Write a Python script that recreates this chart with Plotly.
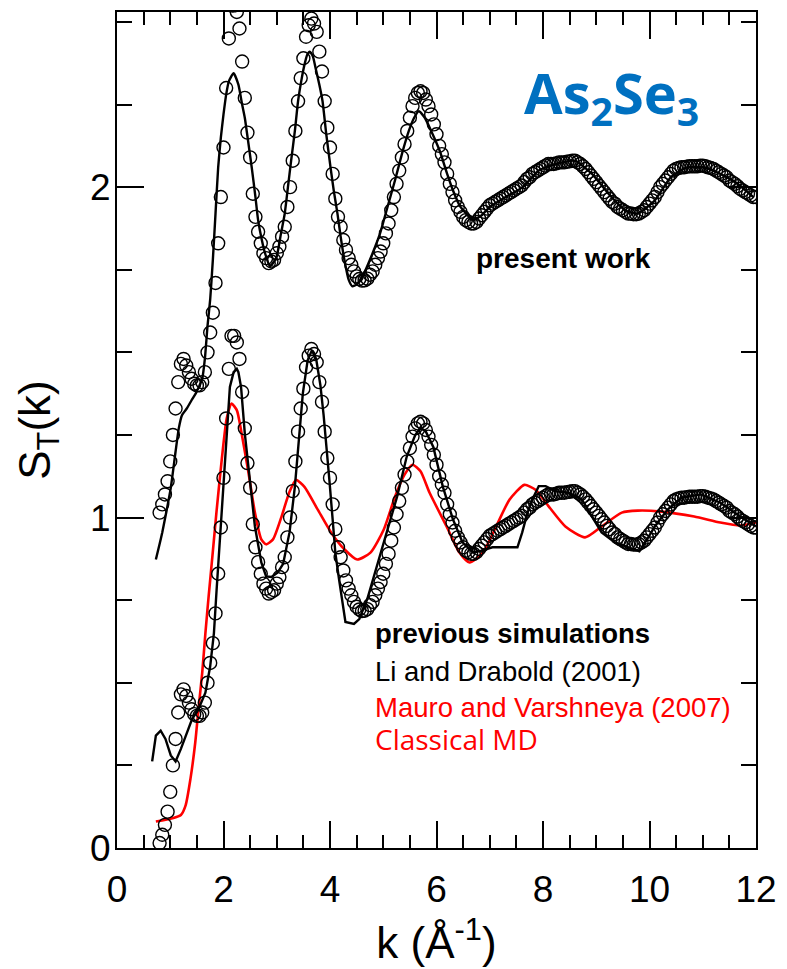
import plotly.graph_objects as go

# Measured total structure factor S_T(k) (open circles).
# The same measurement is drawn twice: as is, and shifted up by OFFSET next to the present model.
K_EXP = [
    0.80, 0.85, 0.90, 0.95, 1.00, 1.05, 1.10, 1.15, 1.20, 1.25,
    1.30, 1.35, 1.40, 1.45, 1.50, 1.55, 1.60, 1.65, 1.70, 1.75,
    1.80, 1.85, 1.90, 1.95, 2.00, 2.05, 2.10, 2.15, 2.20, 2.25,
    2.30, 2.35, 2.40, 2.45, 2.50, 2.55, 2.60, 2.65, 2.70, 2.75,
    2.80, 2.85, 2.90, 2.95, 3.00, 3.05, 3.10, 3.15, 3.20, 3.25,
    3.30, 3.35, 3.40, 3.45, 3.50, 3.55, 3.60, 3.65, 3.70, 3.75,
    3.80, 3.85, 3.90, 3.95, 4.00, 4.05, 4.10, 4.15, 4.20, 4.25,
    4.30, 4.35, 4.40, 4.45, 4.50, 4.55, 4.60, 4.65, 4.70, 4.75,
    4.80, 4.85, 4.90, 4.95, 5.00, 5.05, 5.10, 5.15, 5.20, 5.25,
    5.30, 5.35, 5.40, 5.45, 5.50, 5.55, 5.60, 5.65, 5.70, 5.75,
    5.80, 5.85, 5.90, 5.95, 6.00, 6.05, 6.10, 6.15, 6.20, 6.25,
    6.30, 6.35, 6.40, 6.45, 6.50, 6.55, 6.60, 6.65, 6.70, 6.75,
    6.80, 6.85, 6.90, 6.95, 7.00, 7.05, 7.10, 7.15, 7.20, 7.25,
    7.30, 7.35, 7.40, 7.45, 7.50, 7.55, 7.60, 7.65, 7.70, 7.75,
    7.80, 7.85, 7.90, 7.95, 8.00, 8.05, 8.10, 8.15, 8.20, 8.25,
    8.30, 8.35, 8.40, 8.45, 8.50, 8.55, 8.60, 8.65, 8.70, 8.75,
    8.80, 8.85, 8.90, 8.95, 9.00, 9.05, 9.10, 9.15, 9.20, 9.25,
    9.30, 9.35, 9.40, 9.45, 9.50, 9.55, 9.60, 9.65, 9.70, 9.75,
    9.80, 9.85, 9.90, 9.95, 10.00, 10.05, 10.10, 10.15, 10.20, 10.25,
    10.30, 10.35, 10.40, 10.45, 10.50, 10.55, 10.60, 10.65, 10.70, 10.75,
    10.80, 10.85, 10.90, 10.95, 11.00, 11.05, 11.10, 11.15, 11.20, 11.25,
    11.30, 11.35, 11.40, 11.45, 11.50, 11.55, 11.60, 11.65, 11.70, 11.75,
    11.80, 11.85, 11.90, 11.95, 12.00,
]
S_EXP = [
    0.015, 0.04, 0.07, 0.11, 0.17, 0.25, 0.33, 0.41, 0.465, 0.48,
    0.46, 0.44, 0.42, 0.405, 0.40, 0.40, 0.41, 0.44, 0.50, 0.56,
    0.62, 0.71, 0.83, 0.97, 1.12, 1.30, 1.45, 1.55, 1.55, 1.53,
    1.48, 1.38, 1.27, 1.165, 1.09, 0.98, 0.91, 0.865, 0.83, 0.80,
    0.785, 0.77, 0.775, 0.78, 0.80, 0.82, 0.85, 0.88, 0.94, 1.00,
    1.08, 1.17, 1.26, 1.33, 1.39, 1.455, 1.49, 1.51, 1.495, 1.47,
    1.41, 1.35, 1.26, 1.18, 1.12, 1.04, 0.965, 0.91, 0.88, 0.84,
    0.81, 0.785, 0.765, 0.745, 0.73, 0.722, 0.717, 0.718, 0.723, 0.735,
    0.745, 0.765, 0.785, 0.805, 0.83, 0.86, 0.89, 0.93, 0.97, 1.01,
    1.05, 1.09, 1.13, 1.17, 1.21, 1.245, 1.27, 1.285, 1.29, 1.285,
    1.265, 1.245, 1.22, 1.19, 1.16, 1.125, 1.10, 1.075, 1.04, 1.01,
    0.985, 0.96, 0.94, 0.925, 0.91, 0.90, 0.895, 0.89, 0.89, 0.895,
    0.905, 0.915, 0.925, 0.935, 0.945, 0.95, 0.955, 0.96, 0.965, 0.97,
    0.975, 0.98, 0.985, 0.99, 0.995, 1.00, 1.005, 1.015, 1.025, 1.03,
    1.04, 1.045, 1.05, 1.055, 1.06, 1.065, 1.07, 1.07, 1.07, 1.072,
    1.075, 1.075, 1.075, 1.077, 1.078, 1.08, 1.08, 1.075, 1.07, 1.063,
    1.055, 1.045, 1.035, 1.025, 1.015, 1.005, 0.995, 0.985, 0.975, 0.965,
    0.955, 0.95, 0.94, 0.935, 0.93, 0.925, 0.92, 0.92, 0.918, 0.918,
    0.92, 0.925, 0.93, 0.94, 0.95, 0.96, 0.97, 0.985, 1.00, 1.01,
    1.02, 1.03, 1.04, 1.05, 1.055, 1.058, 1.06, 1.06, 1.062, 1.063,
    1.063, 1.063, 1.063, 1.065, 1.065, 1.063, 1.06, 1.058, 1.055, 1.05,
    1.045, 1.04, 1.035, 1.03, 1.02, 1.015, 1.01, 1.003, 0.995, 0.99,
    0.985, 0.98, 0.975, 0.97, 0.97,
]

# Present-work model (solid black, drawn shifted up by OFFSET)
K_PRESENT = [
    0.73, 0.80, 0.85, 0.93, 1.01, 1.10, 1.16, 1.22, 1.31, 1.40,
    1.48, 1.55, 1.60, 1.65, 1.70, 1.75, 1.80, 1.85, 1.90, 1.95,
    2.00, 2.05, 2.10, 2.19, 2.28, 2.35, 2.40, 2.47, 2.53, 2.60,
    2.65, 2.72, 2.78, 2.87, 2.95, 3.00, 3.08, 3.15, 3.21, 3.27,
    3.34, 3.40, 3.47, 3.52, 3.57, 3.62, 3.68, 3.73, 3.80, 3.86,
    3.93, 4.01, 4.07, 4.14, 4.20, 4.27, 4.35, 4.42, 4.50, 4.64,
    4.80, 4.94, 5.08, 5.22, 5.35, 5.48, 5.58, 5.67, 5.78, 5.90,
    6.06, 6.20, 6.31, 6.45, 6.56, 6.68, 6.85, 7.00, 7.30, 7.62,
    7.92, 8.23, 8.60, 8.92, 9.23, 9.54, 9.78, 10.10, 10.40, 10.70,
    11.02, 11.33, 11.65, 11.95,
]
S_PRESENT = [
    -0.127, -0.08, -0.045, 0.02, 0.09, 0.20, 0.27, 0.31, 0.33, 0.355,
    0.376, 0.40, 0.42, 0.48, 0.58, 0.66, 0.78, 0.92, 1.06, 1.15,
    1.22, 1.28, 1.32, 1.345, 1.31, 1.25, 1.21, 1.13, 1.06, 0.97,
    0.90, 0.84, 0.80, 0.76, 0.775, 0.79, 0.86, 0.92, 1.00, 1.08,
    1.17, 1.26, 1.33, 1.37, 1.40, 1.41, 1.395, 1.36, 1.31, 1.26,
    1.16, 1.06, 0.99, 0.92, 0.85, 0.78, 0.72, 0.70, 0.705, 0.74,
    0.80, 0.86, 0.94, 1.02, 1.10, 1.17, 1.21, 1.23, 1.21, 1.17,
    1.11, 1.04, 0.99, 0.94, 0.92, 0.90, 0.915, 0.94, 0.97, 1.00,
    1.05, 1.07, 1.08, 1.04, 0.98, 0.93, 0.92, 0.96, 1.03, 1.06,
    1.06, 1.04, 1.01, 0.97,
]

# Li and Drabold (2001), solid black
K_LI = [
    0.66, 0.73, 0.82, 0.91, 1.01, 1.10, 1.20, 1.32, 1.41, 1.53,
    1.66, 1.75, 1.82, 1.87, 1.94, 2.00, 2.06, 2.12, 2.19, 2.25,
    2.28, 2.33, 2.40, 2.50, 2.59, 2.71, 2.80, 2.90, 3.02, 3.12,
    3.24, 3.34, 3.43, 3.49, 3.58, 3.66, 3.74, 3.82, 3.88, 3.94,
    3.99, 4.05, 4.10, 4.17, 4.24, 4.29, 4.45, 4.55, 4.70, 4.88,
    5.07, 5.26, 5.44, 5.60, 5.70, 5.80, 5.94, 6.12, 6.31, 6.49,
    6.69, 6.85, 7.05, 7.15, 7.52, 7.61, 7.70, 7.80, 7.92, 8.05,
    8.23, 8.48, 8.73, 8.92, 9.10, 9.35, 9.60, 9.81, 9.90, 10.10,
    10.34, 10.60, 10.97, 11.33, 11.70, 12.00,
]
S_LI = [
    0.262, 0.34, 0.355, 0.33, 0.28, 0.262, 0.30, 0.35, 0.39, 0.42,
    0.47, 0.55, 0.65, 0.78, 0.955, 1.095, 1.255, 1.395, 1.44, 1.45,
    1.44, 1.395, 1.255, 1.105, 0.973, 0.864, 0.822, 0.82, 0.834, 0.86,
    0.955, 1.093, 1.255, 1.376, 1.476, 1.506, 1.48, 1.40, 1.31, 1.21,
    1.11, 0.994, 0.894, 0.813, 0.732, 0.684, 0.678, 0.693, 0.753, 0.852,
    0.955, 1.063, 1.184, 1.25, 1.272, 1.26, 1.214, 1.093, 0.994, 0.925,
    0.894, 0.90, 0.91, 0.91, 0.91, 0.955, 1.01, 1.055, 1.095, 1.095,
    1.08, 1.075, 1.055, 1.003, 0.955, 0.925, 0.91, 0.898, 0.92, 0.973,
    1.024, 1.06, 1.07, 1.045, 1.003, 0.973,
]

# Mauro and Varshneya (2007), classical MD, solid red
K_MAURO = [
    0.73, 1.04, 1.20, 1.29, 1.38, 1.47, 1.53, 1.60, 1.66, 1.72,
    1.79, 1.87, 1.97, 2.06, 2.15, 2.25, 2.34, 2.47, 2.59, 2.71,
    2.80, 2.93, 3.09, 3.24, 3.36, 3.52, 3.77, 4.02, 4.27, 4.51,
    4.76, 5.01, 5.22, 5.40, 5.55, 5.70, 5.87, 6.19, 6.43, 6.62,
    6.87, 7.12, 7.37, 7.65, 7.86, 8.11, 8.42, 8.79, 9.10, 9.48,
    9.78, 10.22, 10.84, 11.33, 11.70, 12.00,
]
S_MAURO = [
    0.08, 0.09, 0.10, 0.13, 0.21, 0.32, 0.42, 0.53, 0.65, 0.76,
    0.88, 1.02, 1.18, 1.30, 1.345, 1.325, 1.255, 1.135, 1.015, 0.934,
    0.919, 0.934, 1.003, 1.078, 1.114, 1.093, 1.024, 0.955, 0.904, 0.873,
    0.894, 0.964, 1.063, 1.13, 1.16, 1.14, 1.075, 0.973, 0.894, 0.864,
    0.894, 0.973, 1.054, 1.099, 1.084, 1.033, 0.973, 0.94, 0.973, 1.015,
    1.021, 1.018, 1.003, 0.985, 0.976, 0.985,
]

OFFSET = 1.0

X_TICKS = [0, 2, 4, 6, 8, 10, 12]
Y_TICKS = [0, 1, 2]

BLACK = "#000000"
RED = "#ff0000"
BLUE = "#0070c0"
ARIAL = "Liberation Sans, Arial, sans-serif"
CALIBRI_LIKE = "Open Sans, Noto Sans, sans-serif"

fig = go.Figure()

circle_marker = dict(symbol="circle-open", size=13, color=BLACK, line=dict(width=1.4, color=BLACK))

# lower group: measurement with previous simulations
fig.add_trace(go.Scatter(x=K_MAURO, y=S_MAURO, mode="lines",
                         line=dict(color=RED, width=2.6, shape="spline", smoothing=0.6)))
fig.add_trace(go.Scatter(x=K_LI, y=S_LI, mode="lines",
                         line=dict(color=BLACK, width=2.4)))
fig.add_trace(go.Scatter(x=K_EXP, y=S_EXP, mode="markers", marker=circle_marker))

# upper group: measurement with present model, shifted
fig.add_trace(go.Scatter(x=K_PRESENT, y=[s + OFFSET for s in S_PRESENT], mode="lines",
                         line=dict(color=BLACK, width=2.4, shape="spline", smoothing=0.5)))
fig.add_trace(go.Scatter(x=K_EXP, y=[s + OFFSET for s in S_EXP], mode="markers", marker=circle_marker))

axis_common = dict(
    showline=True, linewidth=2, linecolor=BLACK, mirror="ticks",
    showgrid=False, zeroline=False,
    ticks="inside", tickwidth=2, tickcolor=BLACK,
    tickfont=dict(family=ARIAL, size=37, color=BLACK),
)

fig.update_xaxes(
    range=[0, 12], tickvals=X_TICKS, ticktext=[str(v) for v in X_TICKS], ticklen=27,
    minor=dict(dtick=0.5, ticks="inside", ticklen=13, tickwidth=2, tickcolor=BLACK, showgrid=False),
    ticklabelstandoff=8,
    title=dict(text="k (Å<sup>-1</sup>)", font=dict(family=ARIAL, size=44, color=BLACK), standoff=18),
    **axis_common,
)
fig.update_yaxes(
    range=[0, 2.53], tickvals=Y_TICKS, ticktext=[str(v) for v in Y_TICKS], ticklen=27,
    minor=dict(dtick=0.25, ticks="inside", ticklen=15, tickwidth=2, tickcolor=BLACK, showgrid=False),
    ticklabelstandoff=-3,
    title=dict(text="S<sub>T</sub>(k)", font=dict(family=ARIAL, size=44, color=BLACK), standoff=26),
    **axis_common,
)

notes = [
    dict(text="As<sub>2</sub>Se<sub>3</sub>", x=0.636, y=0.900,
         font=dict(family=CALIBRI_LIKE, size=56, color=BLUE, weight="bold")),
    dict(text="<b>present work</b>", x=0.560, y=0.705,
         font=dict(family=ARIAL, size=28, color=BLACK)),
    dict(text="<b>previous simulations</b>", x=0.402, y=0.257,
         font=dict(family=ARIAL, size=27.5, color=BLACK)),
    dict(text="Li and Drabold (2001)", x=0.402, y=0.211,
         font=dict(family=ARIAL, size=27.5, color=BLACK)),
    dict(text="Mauro and Varshneya (2007)", x=0.402, y=0.168,
         font=dict(family=ARIAL, size=27.5, color=RED)),
    dict(text="Classical MD", x=0.402, y=0.130,
         font=dict(family=CALIBRI_LIKE, size=28, color=RED)),
]
for n in notes:
    fig.add_annotation(text=n["text"], x=n["x"], y=n["y"], xref="paper", yref="paper",
                       xanchor="left", yanchor="middle", showarrow=False, borderpad=0,
                       font=n["font"])

fig.update_layout(
    width=787, height=969,
    margin=dict(l=117, r=25, t=10, b=119),
    paper_bgcolor="white", plot_bgcolor="white",
    showlegend=False,
    font=dict(family=ARIAL, color=BLACK),
)

fig.write_html("out.html")
